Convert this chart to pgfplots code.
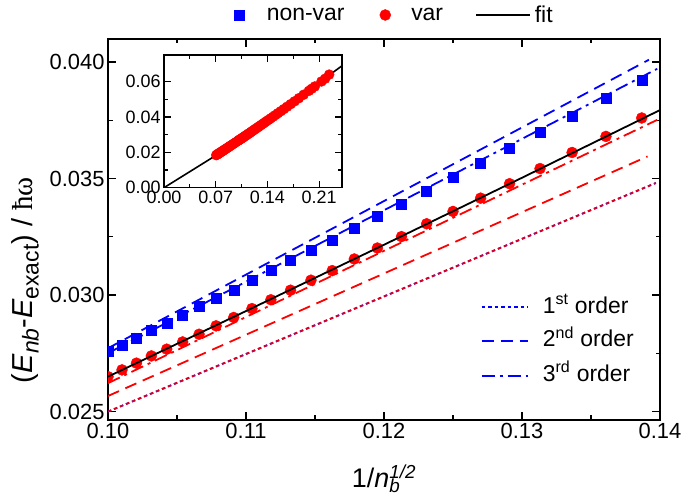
\documentclass[border=0pt]{standalone}
\usepackage{fontspec}
\setmainfont{Liberation Sans}
\newfontfamily\seriffont{Liberation Serif}
\usepackage{pgfplots}
\pgfplotsset{compat=1.18}
\usepackage{pgfplotstable}

\pgfplotstableread{
x nonvar var
0.100000 0.02758 0.02650
0.101015 0.02786 0.02679
0.102062 0.02815 0.02708
0.103142 0.02851 0.02739
0.104257 0.02880 0.02768
0.105409 0.02915 0.02799
0.106600 0.02951 0.02832
0.107833 0.02985 0.02868
0.109109 0.03022 0.02904
0.110432 0.03062 0.02942
0.111803 0.03105 0.02980
0.113228 0.03148 0.03021
0.114708 0.03191 0.03064
0.116248 0.03237 0.03105
0.117851 0.03287 0.03155
0.119523 0.03340 0.03202
0.121268 0.03392 0.03251
0.123091 0.03445 0.03306
0.125000 0.03506 0.03359
0.127000 0.03566 0.03416
0.129099 0.03631 0.03478
0.131306 0.03698 0.03543
0.133631 0.03769 0.03612
0.136083 0.03846 0.03681
0.138675 0.03924 0.03760
}\maindata

\pgfplotstableread{
x y
0.07071 0.01843
0.07161 0.01867
0.07255 0.01893
0.07352 0.01919
0.07454 0.01947
0.07559 0.01976
0.07670 0.02006
0.07785 0.02037
0.07906 0.02070
0.08032 0.02105
0.08165 0.02141
0.08305 0.02180
0.08452 0.02220
0.08607 0.02263
0.08771 0.02308
0.08944 0.02356
0.09129 0.02407
0.09325 0.02462
0.09535 0.02520
0.09759 0.02583
0.10000 0.02650
0.10102 0.02679
0.10206 0.02708
0.10314 0.02739
0.10426 0.02768
0.10541 0.02799
0.10660 0.02832
0.10783 0.02868
0.10911 0.02904
0.11043 0.02942
0.11180 0.02980
0.11323 0.03021
0.11471 0.03064
0.11625 0.03105
0.11785 0.03155
0.11952 0.03202
0.12127 0.03251
0.12309 0.03306
0.12500 0.03359
0.12700 0.03416
0.12910 0.03478
0.13131 0.03543
0.13363 0.03612
0.13608 0.03681
0.13868 0.03760
0.14142 0.03836
0.14434 0.03921
0.14744 0.04012
0.15076 0.04110
0.15430 0.04215
0.15811 0.04328
0.16222 0.04450
0.16667 0.04584
0.17150 0.04729
0.17678 0.04888
0.18257 0.05064
0.18898 0.05261
0.19612 0.05480
0.20000 0.05600
0.20412 0.05728
0.21320 0.06012
0.21822 0.06170
0.22361 0.06400
}\insetdata

\tikzset{
  ord1/.style={line width=1.8bp, dash pattern=on 3.5bp off 3bp},
  ord2/.style={line width=1.8bp, dash pattern=on 12bp off 7bp},
  ord3/.style={line width=1.8bp, dash pattern=on 13bp off 5bp on 3bp off 5bp},
  ordtext/.style={anchor=base west, inner sep=0pt, font=\fontsize{23}{27}\selectfont},
}
\pgfplotsset{
  legA/.style={legend image code/.code={\path[draw=none,fill=none] (-10bp,0bp) -- (27.4bp,0bp); \draw[##1] plot coordinates {(0bp,0bp)};}},
  legB/.style={legend image code/.code={\path[draw=none,fill=none] (-40.7bp,0bp) -- (26bp,0bp); \draw[##1] plot coordinates {(0bp,0bp)};}},
  legC/.style={legend image code/.code={\path[draw=none,fill=none] (-33.3bp,0bp) -- (58.4bp,0bp); \draw[##1] (0bp,0bp) -- (53.4bp,0bp);}},
}
\newcommand{\lsub}[1]{\raisebox{-0.22em}{\fontsize{23}{23}\selectfont #1}}

\begin{document}
\begin{tikzpicture}
\begin{axis}[
  at={(108bp,78bp)}, anchor=south west,
  width=552bp, height=381bp, scale only axis,
  xmin=0.10, xmax=0.14, ymin=0.02464, ymax=0.04099,
  scaled ticks=false,
  xtick={0.10,0.11,0.12,0.13,0.14},
  xticklabels={0.10,0.11,0.12,0.13,0.14},
  ytick={0.025,0.030,0.035,0.040},
  yticklabels={0.025,0.030,0.035,0.040},
  minor x tick num=1, minor y tick num=1,
  tick align=inside,
  major tick length=8bp, minor tick length=4.5bp,
  axis line style={line width=1.3bp},
  every tick/.style={black, line width=1.2bp},
  tick label style={font=\fontsize{22}{26}\selectfont},
  clip marker paths=true,
  xlabel={1/\textit{n}\rlap{\textsubscript{\textit{b}}}\textsuperscript{\textit{1/2}}},
  xlabel style={at={(axis description cs:0.5,-0.178)}, anchor=base, font=\fontsize{27}{31}\selectfont},
  ylabel={(\textit{E}\lsub{\textit{nb}}-\textit{E}\lsub{exact}) / {\seriffont ħω}},
  ylabel style={at={(axis description cs:-0.15,0.367)}, anchor=center, font=\fontsize{29}{33}\selectfont},
  legend style={at={(axis description cs:0.2197,1.063)}, anchor=west, draw=none, fill=none,
    inner sep=0pt, legend columns=-1, font=\fontsize{23}{27}\selectfont,
    nodes={inner xsep=0bp}},
]
\addplot[blue, ord1, forget plot] coordinates {(0.10,0.02500) (0.1397,0.03481)};
\addplot[red, opacity=0.85, ord1, forget plot] coordinates {(0.10,0.02500) (0.1397,0.03481)};
\addplot[red, ord2, forget plot] coordinates {(0.10,0.02567) (0.1391,0.03595)};
\addplot[blue, ord2, forget plot] coordinates {(0.10,0.02772) (0.1392,0.04010)};
\addplot[red, ord3, forget plot] coordinates {(0.10,0.02622) (0.1398,0.03752)};
\addplot[blue, ord3, forget plot] coordinates {(0.10,0.02751) (0.1398,0.03971)};
\addplot[only marks, mark=square*, mark size=5bp, blue, legA]
  table[x=x,y=nonvar] {\maindata};
\addlegendentry{non-var}
\addplot[only marks, mark=*, mark size=5.5bp, red, legB]
  table[x=x,y=var] {\maindata};
\addlegendentry{var}
\addplot[black, line width=1.8bp, legC]
  coordinates {(0.10,0.02650) (0.11,0.029315) (0.12,0.03216) (0.13,0.035035) (0.14,0.03794)};
\addlegendentry{fit}
% second legend (order of the expansion)
\draw[blue, ord1] (axis description cs:0.677,0.2958) -- ++(46.6bp,0bp);
\node[ordtext] at (axis description cs:0.7875,0.2801) {1\textsuperscript{st} order};
\draw[blue, ord2] (axis description cs:0.677,0.2073) -- ++(46.6bp,0bp);
\node[ordtext] at (axis description cs:0.7875,0.1916) {2\textsuperscript{nd} order};
\draw[blue, ord3] (axis description cs:0.677,0.1155) -- ++(46.6bp,0bp);
\node[ordtext] at (axis description cs:0.7875,0.0998) {3\textsuperscript{rd} order};
\end{axis}

\begin{axis}[
  at={(164bp,310.3bp)}, anchor=south west,
  width=178bp, height=132.7bp, scale only axis,
  xmin=0, xmax=0.241, ymin=0, ymax=0.0751,
  scaled ticks=false,
  axis background/.style={fill=white},
  xtick={0,0.07,0.14,0.21}, xticklabels={0.00,0.07,0.14,0.21},
  ytick={0,0.02,0.04,0.06}, yticklabels={0.00,0.02,0.04,0.06},
  minor x tick num=1, minor y tick num=1,
  tick align=inside,
  major tick length=7bp, minor tick length=4bp,
  axis line style={line width=1.2bp},
  every tick/.style={black, line width=1.1bp},
  tick label style={font=\fontsize{18}{21}\selectfont},
]
\addplot[only marks, mark=*, mark size=5bp, red] table[x=x,y=y] {\insetdata};
\addplot[black, line width=1.6bp] coordinates {(0,0) (0.07,0.0182) (0.14,0.0380) (0.241,0.0690)};
\end{axis}
\pgfresetboundingbox
\path[use as bounding box] (0,0) rectangle (683bp,498bp);
\end{tikzpicture}
\end{document}
